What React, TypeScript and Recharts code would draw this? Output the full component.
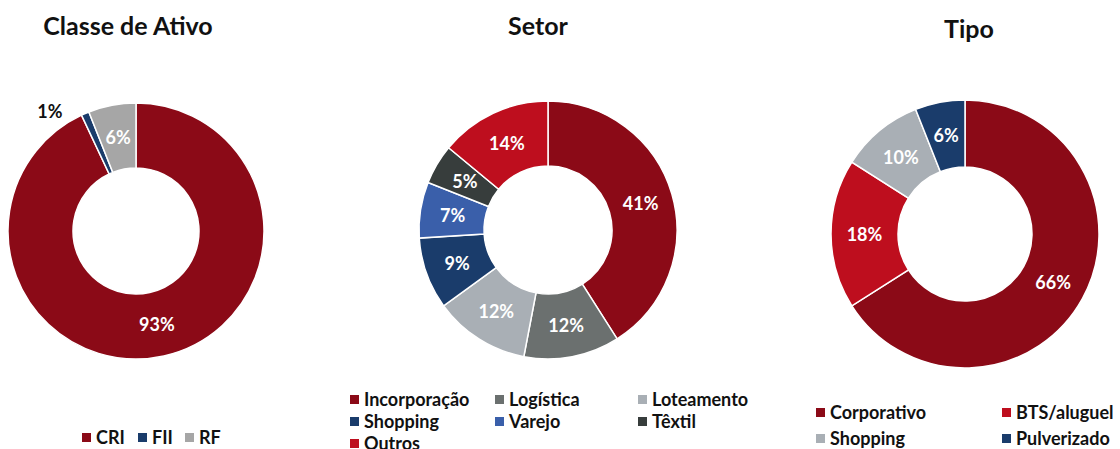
import { PieChart, Pie, Cell } from 'recharts'

const classeNames = ['CRI', 'FII', 'RF']
const classeValues = [93, 1, 6]
const classeColors = ['#8B0A17', '#1A3C6B', '#A6A6A6']

const setorNames = ['Incorporação', 'Logística', 'Loteamento', 'Shopping', 'Varejo', 'Têxtil', 'Outros']
const setorValues = [41, 12, 12, 9, 7, 5, 14]
const setorColors = ['#8B0A17', '#6B706F', '#A9AFB5', '#1A3C6B', '#3A5FAA', '#373D3C', '#BE0E1E']

const tipoNames = ['Corporativo', 'BTS/aluguel', 'Shopping', 'Pulverizado']
const tipoValues = [66, 18, 10, 6]
const tipoColors = ['#8B0A17', '#BE0E1E', '#A9AFB5', '#1A3C6B']

const RADIAN = Math.PI / 180
const FONT = 'Lato, "Open Sans", sans-serif'

const toData = (names: string[], values: number[]) => names.map((name, i) => ({ name, value: values[i] }))

// labels sit in the middle of the ring; tiny slices get an outside black label
const renderLabel = (outside: number[]) => (props: any) => {
  const { cx, cy, midAngle, innerRadius, outerRadius, value, index } = props
  if (outside.includes(index)) {
    const r = outerRadius + 4
    const x = cx + r * Math.cos(-midAngle * RADIAN) - 21
    const y = cy + r * Math.sin(-midAngle * RADIAN) + 1
    return (
      <text x={x} y={y} fill="#111" textAnchor="end" dominantBaseline="central" fontSize={18} fontWeight={700} fontFamily={FONT}>
        {value}%
      </text>
    )
  }
  const r = (innerRadius + outerRadius) / 2
  const x = cx + r * Math.cos(-midAngle * RADIAN)
  const y = cy + r * Math.sin(-midAngle * RADIAN)
  return (
    <text x={x} y={y} fill="#fff" textAnchor="middle" dominantBaseline="central" fontSize={18} fontWeight={700} fontFamily={FONT}>
      {value}%
    </text>
  )
}

function Title({ text, x, y }: { text: string; x: number; y: number }) {
  return (
    <div style={{ position: 'absolute', left: x - 150, top: y - 15, width: 300, textAlign: 'center', fontSize: 25, fontWeight: 700, color: '#111', fontFamily: FONT, lineHeight: '30px' }}>
      {text}
    </div>
  )
}

function LegendGrid({ names, colors, cols, left, top, rowH }: { names: string[]; colors: string[]; cols: number[]; left: number; top: number; rowH: number }) {
  return (
    <>
      {names.map((n, i) => {
        const col = i % cols.length
        const row = Math.floor(i / cols.length)
        return (
          <div key={n} style={{ position: 'absolute', left: left + cols[col], top: top + row * rowH - 11, height: 22, display: 'flex', alignItems: 'center', fontFamily: FONT, fontWeight: 700, fontSize: 18, color: '#111', whiteSpace: 'nowrap' }}>
            <span style={{ display: 'inline-block', width: 9, height: 9, background: colors[i], marginRight: 5 }} />
            {n}
          </div>
        )
      })}
    </>
  )
}

export default function App() {
  return (
    <div style={{ position: 'absolute', left: 0, top: 0, width: 1120, height: 449, background: '#fff', overflow: 'hidden' }}>
      <PieChart width={1120} height={449} margin={{ top: 0, right: 0, bottom: 0, left: 0 }} style={{ position: 'absolute', left: 0, top: 0 }}>
        <Pie data={toData(classeNames, classeValues)} dataKey="value" cx={136} cy={231} innerRadius={63} outerRadius={128}
          startAngle={90} endAngle={-270} stroke="#fff" strokeWidth={1.5} labelLine={false} label={renderLabel([1])} isAnimationActive={false}>
          {classeColors.map(c => <Cell key={c} fill={c} />)}
        </Pie>
        <Pie data={toData(setorNames, setorValues)} dataKey="value" cx={548} cy={230} innerRadius={64} outerRadius={129}
          startAngle={90} endAngle={-270} stroke="#fff" strokeWidth={1.5} labelLine={false} label={renderLabel([])} isAnimationActive={false}>
          {setorColors.map((c, i) => <Cell key={i} fill={c} />)}
        </Pie>
        <Pie data={toData(tipoNames, tipoValues)} dataKey="value" cx={965} cy={234} innerRadius={67} outerRadius={134}
          startAngle={90} endAngle={-270} stroke="#fff" strokeWidth={1.5} labelLine={false} label={renderLabel([])} isAnimationActive={false}>
          {tipoColors.map((c, i) => <Cell key={i} fill={c} />)}
        </Pie>
      </PieChart>
      <Title text="Classe de Ativo" x={128} y={25} />
      <Title text="Setor" x={538} y={25} />
      <Title text="Tipo" x={969} y={28} />
      <LegendGrid names={classeNames} colors={classeColors} cols={[0, 56, 103]} left={82} top={437} rowH={22} />
      <LegendGrid names={setorNames} colors={setorColors} cols={[0, 145, 288]} left={350} top={399} rowH={22} />
      <LegendGrid names={tipoNames} colors={tipoColors} cols={[0, 186]} left={816} top={412} rowH={26} />
    </div>
  )
}
